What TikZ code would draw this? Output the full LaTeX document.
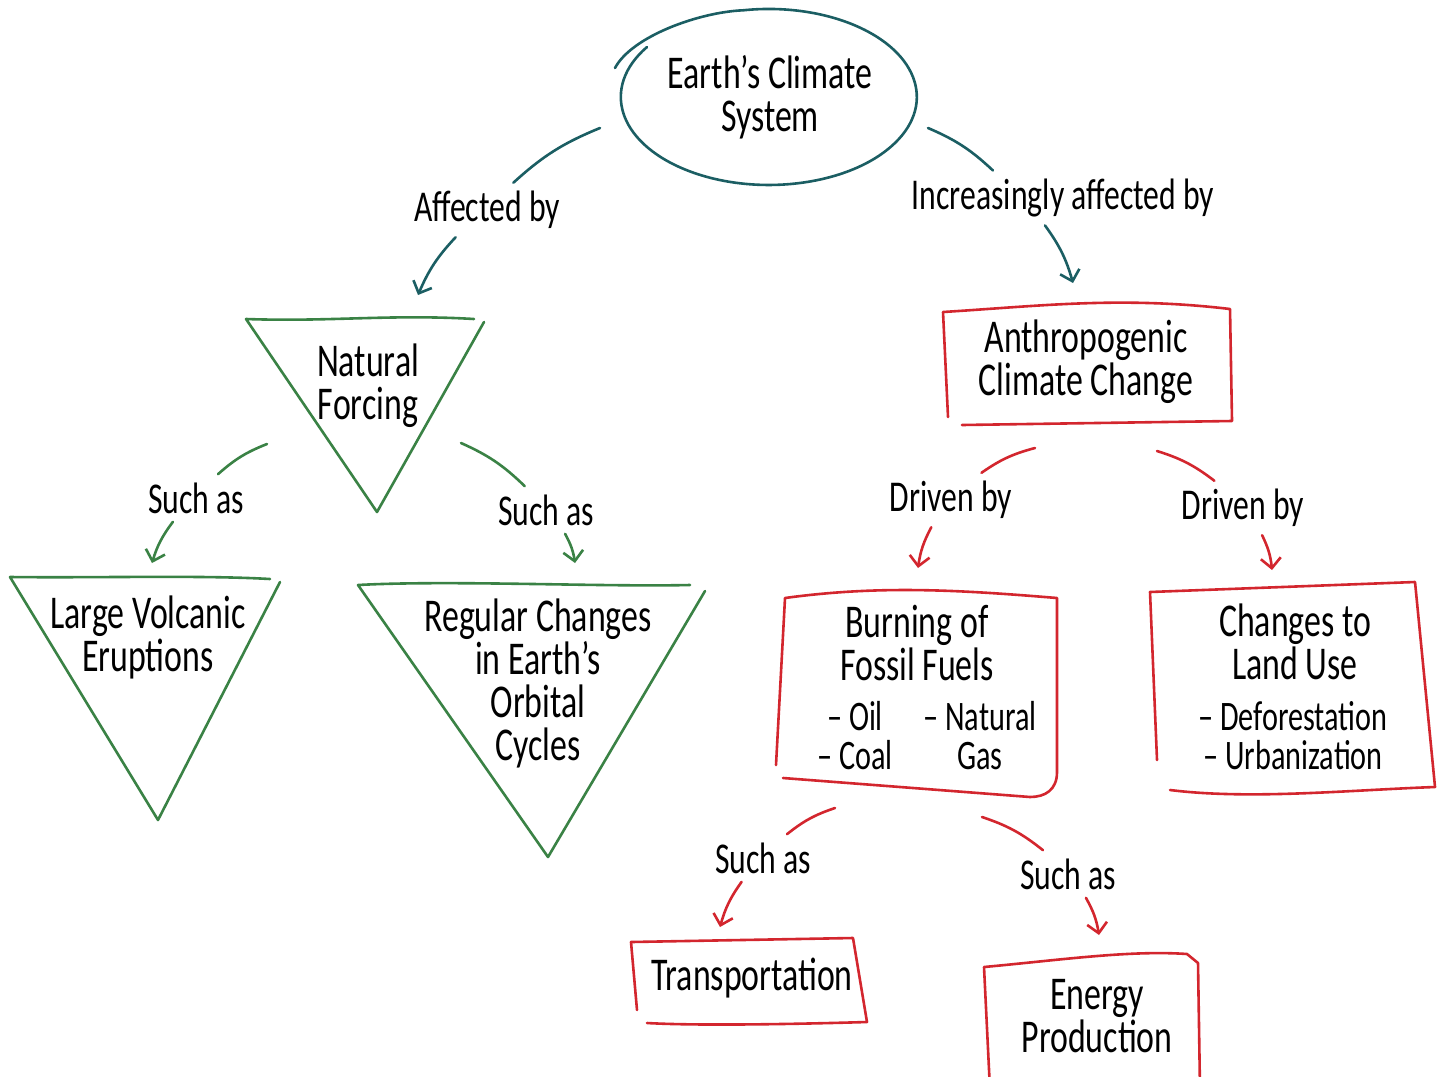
\documentclass[tikz,border=0pt]{standalone}
\usepackage{fontspec}
\setmainfont[FakeStretch=0.72]{Carlito}
\usetikzlibrary{arrows.meta,shapes.geometric,positioning}

\definecolor{seateal}{HTML}{1B5E63}
\definecolor{leafgreen}{HTML}{3A8245}
\definecolor{brickred}{HTML}{D3262E}

\tikzset{
  sketch/.style={line width=1.3pt, line cap=round, line join=round},
  tealline/.style={sketch, draw=seateal},
  greenline/.style={sketch, draw=leafgreen},
  redline/.style={sketch, draw=brickred},
  linkhead/.style={-{Straight Barb[length=5pt,width=10pt]}},
  ideatext/.style={align=center, inner sep=0pt, font=\fontsize{23.5}{21.5}\selectfont},
  linklabel/.style={inner sep=4pt, font=\fontsize{22}{22}\selectfont},
  listtext/.style={align=center, inner sep=0pt, font=\fontsize{21}{19.5}\selectfont},
}

\begin{document}
\begin{tikzpicture}[x=0.5pt,y=-0.5pt]
\useasboundingbox (0,0) rectangle (1443,1076);
\clip (0,0) rectangle (1443,1076);

% top concept, outline drawn by hand so the ends overlap
\node[ideatext, ellipse, minimum width=148pt, minimum height=88pt] (climate) at (770,97) {Earth's Climate\\System};
\draw[tealline] (647,47) arc[start angle=145.4, end angle=460, x radius=74pt, y radius=44pt]
  .. controls (700,12) and (632,36) .. (615,68);

% natural side
\node[ideatext] (natural) at (368,386) {Natural\\Forcing};
\draw[greenline] (474,319) .. controls (390,314) and (330,322) .. (246,319) -- (377,512) -- (484,322);

\node[ideatext] (volcanic) at (148,637) {Large Volcanic\\Eruptions};
\draw[greenline] (270,579) .. controls (200,575) and (100,578) .. (10,577) -- (158,820) -- (280,582);

\node[ideatext] (orbital) at (538,683) {Regular Changes\\in Earth's\\Orbital\\Cycles};
\draw[greenline] (690,585) .. controls (600,587) and (450,580) .. (358,585) -- (548,857) -- (705,591);

% human side
\node[ideatext] (anthro) at (1086,362) {Anthropogenic\\Climate Change};
\draw[redline] (948,417) -- (943,312) .. controls (1040,306) and (1120,296) .. (1230,309) -- (1232,421) -- (962,425);

\node[ideatext] (fossil) at (917,643) {Burning of\\Fossil Fuels};
\node[listtext] (fuelsA) at (855,736) {-- Oil\\-- Coal};
\node[listtext] (fuelsB) at (980,736) {-- Natural\\Gas};
\draw[redline] (776,765) -- (785,598) .. controls (880,585) and (960,590) .. (1057,598) -- (1057,772) .. controls (1057,790) and (1045,797) .. (1030,797) -- (783,778);

\node[ideatext] (landuse) at (1295,642) {Changes to\\Land Use};
\node[listtext] (landlist) at (1293,736) {-- Deforestation\\-- Urbanization};
\draw[redline] (1157,760) -- (1150,592) -- (1415,582) -- (1435,787) .. controls (1350,790) and (1250,800) .. (1170,790);

\node[ideatext] (transport) at (752,978) {Transportation};
\draw[redline] (637,1010) -- (631,942) -- (853,938) -- (867,1022) .. controls (800,1024) and (700,1026) .. (647,1023);

\node[ideatext] (energy) at (1097,1016) {Energy\\Production};
\draw[redline] (990,1090) -- (984,967) .. controls (1060,960) and (1130,950) .. (1187,954) -- (1198,963) -- (1200,1090);

% link labels
\node[linklabel] (affected) at (487,210) {Affected by};
\node[linklabel] (increasing) at (1063,198) {Increasingly affected by};
\node[linklabel] (suchVolc) at (196,498) {Such as};
\node[linklabel] (suchOrbit) at (546,510) {Such as};
\node[linklabel] (drivenFossil) at (951,500) {Driven by};
\node[linklabel] (drivenLand) at (1243,508) {Driven by};
\node[linklabel] (suchTrans) at (763,858) {Such as};
\node[linklabel] (suchEnergy) at (1068,874) {Such as};

\coordinate (affFrom) at (600,128);
\coordinate (affTo) at (418,295);
\coordinate (incFrom) at (928,128);
\coordinate (incTo) at (1073,283);
\coordinate (volcFrom) at (267,444);
\coordinate (volcTo) at (152,563);
\coordinate (orbFrom) at (461,443);
\coordinate (orbTo) at (575,563);
\coordinate (fosFrom) at (1035,448);
\coordinate (fosTo) at (918,568);
\coordinate (landFrom) at (1157,451);
\coordinate (landTo) at (1272,570);
\coordinate (transFrom) at (835,808);
\coordinate (transTo) at (720,927);
\coordinate (enFrom) at (982,817);
\coordinate (enTo) at (1099,935);

% connectors
\draw[tealline] (affFrom) to[bend right=10] (affected);
\draw[tealline, linkhead] (affected) to[bend right=10] (affTo);
\draw[tealline] (incFrom) to[bend left=10] ([xshift=-35pt]increasing.north);
\draw[tealline, linkhead] ([xshift=-9pt]increasing.south) to[bend left=10] (incTo);

\draw[greenline] (volcFrom) to[bend right=10] (suchVolc);
\draw[greenline, linkhead] (suchVolc) to[bend right=10] (volcTo);
\draw[greenline] (orbFrom) to[bend left=10] (suchOrbit);
\draw[greenline, linkhead] (suchOrbit) to[bend left=10] (orbTo);

\draw[redline] (fosFrom) to[bend right=10] (drivenFossil);
\draw[redline, linkhead] (drivenFossil) to[bend right=10] (fosTo);
\draw[redline] (landFrom) to[bend left=10] (drivenLand);
\draw[redline, linkhead] (drivenLand) to[bend left=10] (landTo);

\draw[redline] (transFrom) to[bend right=10] (suchTrans);
\draw[redline, linkhead] (suchTrans) to[bend right=10] (transTo);
\draw[redline] (enFrom) to[bend left=10] (suchEnergy);
\draw[redline, linkhead] (suchEnergy) to[bend left=10] (enTo);
\end{tikzpicture}
\end{document}
